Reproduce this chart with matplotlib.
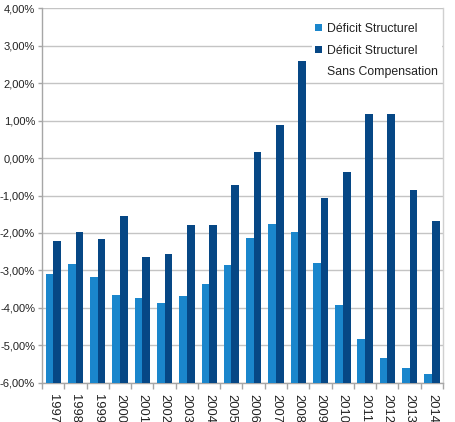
import matplotlib
matplotlib.use("Agg")
import matplotlib.pyplot as plt
import numpy as np
from matplotlib.patches import Rectangle

plt.rcParams['font.family'] = ['Liberation Sans', 'DejaVu Sans']

years = ["1997", "1998", "1999", "2000", "2001", "2002", "2003", "2004", "2005",
         "2006", "2007", "2008", "2009", "2010", "2011", "2012", "2013", "2014"]
deficit_structurel = [-3.10, -2.84, -3.17, -3.66, -3.73, -3.86, -3.69, -3.36, -2.86,
                      -2.13, -1.77, -1.97, -2.80, -3.92, -4.83, -5.35, -5.62, -5.77]
deficit_sans_comp = [-2.22, -1.98, -2.16, -1.55, -2.64, -2.55, -1.78, -1.78, -0.72,
                     0.15, 0.87, 2.60, -1.06, -0.36, 1.17, 1.18, -0.86, -1.68]
series_names = ["Déficit Structurel", "Déficit Structurel\nSans Compensation"]
y_ticks = [4, 3, 2, 1, 0, -1, -2, -3, -4, -5, -6]

light = "#1a86cc"
dark = "#064785"
grid_c = "#c4c4c4"
axis_c = "#a6a6a6"

fig = plt.figure(figsize=(4.56, 4.22), dpi=100)
ax = fig.add_axes([42/456, 1-382.7/422, (443-42)/456, (382.7-8.3)/422])

ymin, ymax = -6, 4
x = np.arange(len(years))
w = 0.345
ds = np.array(deficit_structurel)
dc = np.array(deficit_sans_comp)
ax.bar(x - w/2 + 0.005, ds - ymin, width=w, bottom=ymin, color=light, zorder=3)
ax.bar(x + w/2 + 0.005, dc - ymin, width=w, bottom=ymin, color=dark, zorder=3)

ax.set_ylim(ymin, ymax)
ax.set_xlim(-0.5, len(years) - 0.5)
ax.set_yticks(y_ticks)
ax.set_yticklabels([("%.2f%%" % v).replace(".", ",") for v in y_ticks], fontsize=8, color="#222222")
ax.yaxis.grid(True, color=grid_c, linewidth=1, zorder=0)
ax.set_axisbelow(True)

ax.set_xticks(x)
ax.set_xticklabels(years, rotation=-90, fontsize=9.3, color="#222222")
ax.set_xticks(np.arange(-0.5, len(years)), minor=True)
ax.tick_params(axis='x', which='major', length=0, pad=8)
ax.tick_params(axis='x', which='minor', length=4, color=axis_c, width=1)
ax.tick_params(axis='y', length=3, color=axis_c, width=1, pad=2)

for s in ['left', 'bottom', 'right']:
    ax.spines[s].set_color(axis_c)
    ax.spines[s].set_linewidth(1)
ax.spines['right'].set_color("#d0d0d0")
ax.spines['top'].set_visible(False)

# legend (manual layout)
H = 422.0
W = 456.0
fig.patches.append(Rectangle((312/W, 1-80/H), (442/W - 312/W), (80-14)/H,
                             transform=fig.transFigure, facecolor="white",
                             edgecolor="none", zorder=4))
for i, (name, col, yc) in enumerate(zip(series_names, [light, dark], [27, 49])):
    fig.patches.append(Rectangle((315/W, 1-(yc+3.5)/H), 7/W, 7/H,
                                 transform=fig.transFigure, facecolor=col,
                                 edgecolor="none", zorder=5))
    fig.text(327/W, 1-(yc-4)/H, name, fontsize=8.8, color="#222222",
             va="top", ha="left", linespacing=2.05, zorder=6)

fig.savefig("out.png", dpi=100)
